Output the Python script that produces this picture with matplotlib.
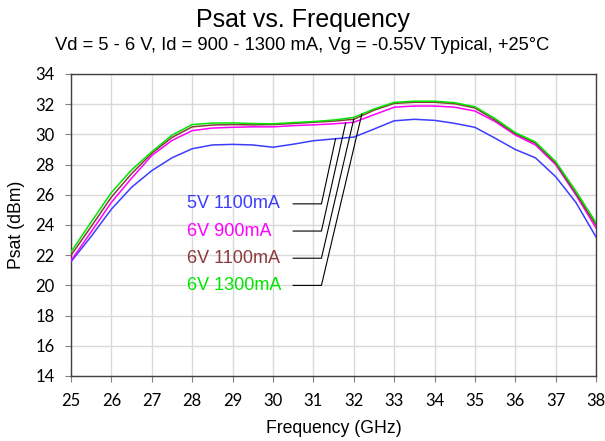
import numpy as np
import matplotlib
matplotlib.use("Agg")
import matplotlib.pyplot as plt

# Psat (dBm), one value per 0.5 GHz
freq_ghz = [25, 25.5, 26, 26.5, 27, 27.5, 28, 28.5, 29, 29.5, 30, 30.5, 31, 31.5,
            32, 32.5, 33, 33.5, 34, 34.5, 35, 35.5, 36, 36.5, 37, 37.5, 38]
psat_5v_1100 = [21.57, 23.25, 25.05, 26.5, 27.6, 28.45, 29.05, 29.3, 29.34, 29.3, 29.15, 29.35, 29.58, 29.7,
                29.82, 30.35, 30.9, 31.0, 30.93, 30.73, 30.47, 29.75, 29.0, 28.45, 27.2, 25.5, 23.2]
psat_6v_900 = [21.65, 23.55, 25.5, 27.1, 28.6, 29.6, 30.25, 30.42, 30.47, 30.5, 30.5, 30.58, 30.63, 30.7,
               30.8, 31.3, 31.8, 31.88, 31.88, 31.8, 31.55, 30.85, 29.96, 29.3, 28.0, 26.0, 23.8]
psat_6v_1100 = [22.0, 23.9, 25.85, 27.4, 28.75, 29.8, 30.5, 30.62, 30.65, 30.63, 30.65, 30.72, 30.8, 30.88,
                31.0, 31.6, 32.05, 32.13, 32.13, 32.03, 31.75, 30.95, 30.05, 29.42, 28.1, 26.1, 24.0]
psat_6v_1300 = [22.22, 24.2, 26.15, 27.65, 28.85, 29.95, 30.65, 30.75, 30.76, 30.72, 30.7, 30.78, 30.85, 30.95,
                31.12, 31.68, 32.12, 32.2, 32.2, 32.1, 31.83, 31.05, 30.12, 29.5, 28.2, 26.25, 24.15]

labels = ["5V 1100mA", "6V 900mA", "6V 1100mA", "6V 1300mA"]
colors = ["#3c3cff", "#ff00ff", "#8b3a3a", "#00e600"]
series = [psat_5v_1100, psat_6v_900, psat_6v_1100, psat_6v_1300]

# where each leader line touches its curve (GHz) and where its label sits (dBm)
leader_freq = [31.55, 31.8, 32.0, 32.2]
label_y = [25.4, 23.6, 21.8, 20.0]

fig = plt.figure(figsize=(6.05, 4.41), dpi=100)
ax = fig.add_axes([0.1174, 0.1474, 0.8678, 0.6848])

for vals, col in zip(series, colors):
    ax.plot(freq_ghz, vals, color=col, lw=1.1, zorder=3)

for lab, col, fx, ly, vals in zip(labels, colors, leader_freq, label_y, series):
    cy = np.interp(fx, freq_ghz, vals)
    ax.plot([30.5, 31.2, fx], [ly, ly, cy], color="black", lw=0.8, zorder=4)
    ax.text(27.87, ly, lab, color=col, fontsize=13, family="Liberation Sans",
            va="center", ha="left", zorder=5)

ax.set_xlim(25, 38)
ax.set_ylim(14, 34)
ax.set_xticks(np.arange(25, 39, 1))
ax.set_yticks(np.arange(14, 35, 2))
ax.grid(True, color="#d9d9d9", lw=1.0, zorder=0)
ax.set_axisbelow(True)
for sp in ax.spines.values():
    sp.set_color("#404040")
    sp.set_linewidth(1.0)
ax.tick_params(direction="out", length=4, width=0.8, color="#808080",
               labelsize=12, pad=8)
for t in ax.get_xticklabels() + ax.get_yticklabels():
    t.set_family("Lato")

ax.set_xlabel("Frequency (GHz)", fontsize=12.7, family="Liberation Sans", labelpad=8)
ax.set_ylabel("Psat (dBm)", fontsize=12.7, family="Liberation Sans", labelpad=7)

fig.text(0.5, 0.955, "Psat vs. Frequency", ha="center", va="center",
         fontsize=18, family="Liberation Sans")
fig.text(0.5, 0.897, "Vd = 5 - 6 V, Id = 900 - 1300 mA, Vg = -0.55V Typical, +25\u00b0C",
         ha="center", va="center", fontsize=13.2, family="Liberation Sans")

fig.savefig("out.png", dpi=100)
